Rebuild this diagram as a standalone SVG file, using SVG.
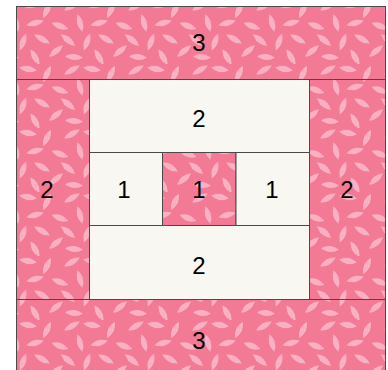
<svg xmlns="http://www.w3.org/2000/svg" xmlns:xlink="http://www.w3.org/1999/xlink" width="388" height="370" viewBox="0 0 388 370">
<style>
.pink{fill:url(#leaves);stroke:#4a4a4a;stroke-width:1}
.cream{fill:#f8f7f2;stroke:#4a4a4a;stroke-width:1}
.lbl{font-family:"Liberation Sans",Arial,sans-serif;font-size:24px;fill:#000;text-anchor:middle;dominant-baseline:central}
.leaf{fill:#f9b0c2}
</style>
<defs>
<path id="lf" class="leaf" d="M-9,0 Q0,-6 9,0 Q0,6 -9,0Z"/>
<pattern id="leaves" patternUnits="userSpaceOnUse" width="64" height="64">
<rect width="64" height="64" fill="#f27a95"/>
<use xlink:href="#lf" transform="translate(8,6) rotate(-30)"/>
<use xlink:href="#lf" transform="translate(28,5) rotate(10)"/>
<use xlink:href="#lf" transform="translate(47,10) rotate(-65)"/>
<use xlink:href="#lf" transform="translate(60,26) rotate(20)"/>
<use xlink:href="#lf" transform="translate(16,23) rotate(75)"/>
<use xlink:href="#lf" transform="translate(35,23) rotate(-15)"/>
<use xlink:href="#lf" transform="translate(4,40) rotate(40)"/>
<use xlink:href="#lf" transform="translate(23,42) rotate(-70)"/>
<use xlink:href="#lf" transform="translate(42,39) rotate(30)"/>
<use xlink:href="#lf" transform="translate(56,51) rotate(-40)"/>
<use xlink:href="#lf" transform="translate(10,57) rotate(5)"/>
<use xlink:href="#lf" transform="translate(35,57) rotate(60)"/>
<use xlink:href="#lf" transform="translate(-4,26) rotate(20)"/>
<use xlink:href="#lf" transform="translate(56,-13) rotate(-40)"/>
<use xlink:href="#lf" transform="translate(8,70) rotate(-30)"/>
<use xlink:href="#lf" transform="translate(28,69) rotate(10)"/>
<use xlink:href="#lf" transform="translate(68,40) rotate(40)"/>
<use xlink:href="#lf" transform="translate(72,6) rotate(-30)"/>
</pattern>
</defs>
<g id="top3"><rect class="pink" x="16.5" y="6.5" width="369" height="73"/><text class="lbl" x="199" y="42">3</text></g>
<g id="left2"><rect class="pink" x="16.5" y="79.5" width="73" height="220"/><text class="lbl" x="47" y="189">2</text></g>
<g id="right2"><rect class="pink" x="309.5" y="79.5" width="76" height="220"/><text class="lbl" x="347" y="189">2</text></g>
<g id="inner-top2"><rect class="cream" x="89.5" y="79.5" width="220" height="73"/><text class="lbl" x="199" y="118">2</text></g>
<g id="left1"><rect class="cream" x="89.5" y="152.5" width="73" height="73"/><text class="lbl" x="124" y="189">1</text></g>
<g id="center1"><rect class="pink" x="162.5" y="152.5" width="73.5" height="73"/><text class="lbl" x="199" y="189">1</text></g>
<g id="right1"><rect class="cream" x="236" y="152.5" width="73.5" height="73"/><text class="lbl" x="272" y="189">1</text></g>
<g id="inner-bottom2"><rect class="cream" x="89.5" y="225.5" width="220" height="74"/><text class="lbl" x="199" y="265">2</text></g>
<g id="bottom3"><rect class="pink" x="16.5" y="299.5" width="369" height="76"/><text class="lbl" x="199" y="340">3</text></g>
<g id="connectors"></g>
</svg>
